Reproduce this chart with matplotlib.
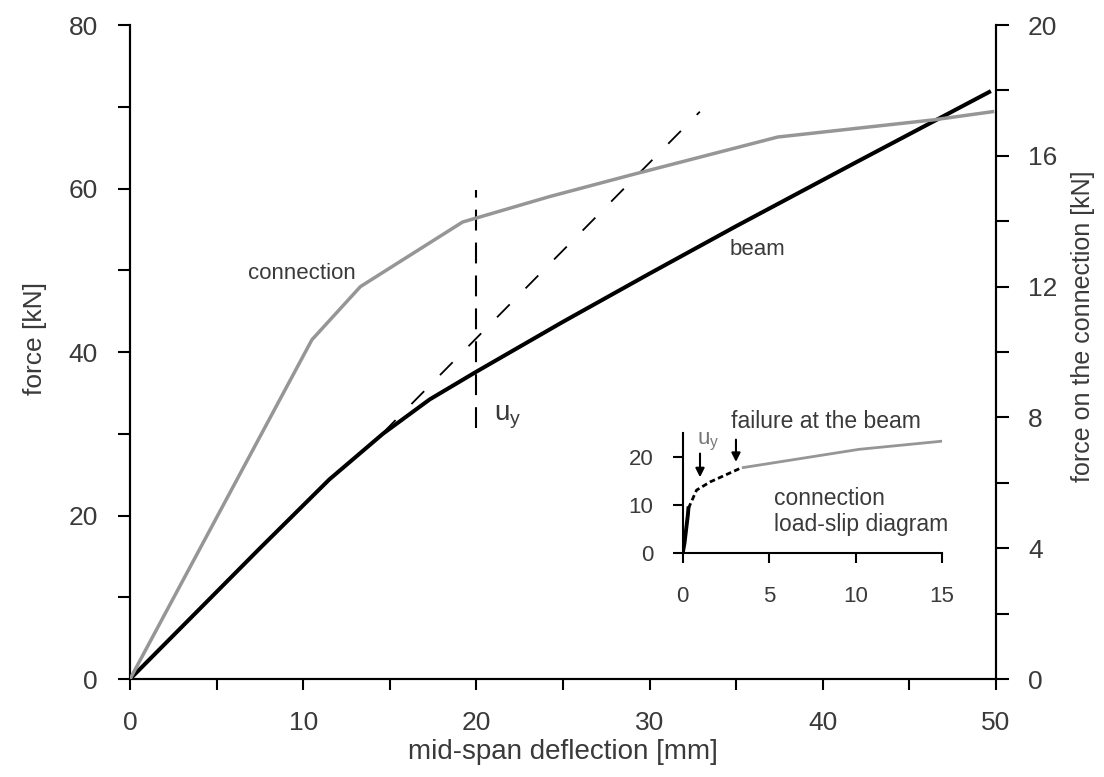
import matplotlib
matplotlib.use("Agg")
import matplotlib.pyplot as plt
from matplotlib.ticker import MultipleLocator

plt.rcParams['font.family'] = ['Liberation Sans', 'DejaVu Sans']

# ---- data (main chart) ----
beam_x = [0, 7.5, 11.5, 14.6, 17.3, 20, 25, 30, 35, 42, 49.6]
beam_y = [0, 16, 24.4, 30.0, 34.2, 37.6, 43.7, 49.6, 55.4, 63.3, 71.8]

# connection force on right axis [kN]
conn_x = [0, 10.5, 13.3, 19.2, 24.2, 29, 37.4, 46.4, 49.8]
conn_y = [0, 10.375, 12.0, 13.975, 14.75, 15.425, 16.575, 17.1, 17.35]

uy_x = [20, 20]
uy_y = [30.7, 59.8]
tan_x = [14.6, 32.9]
tan_y = [30.1, 69.4]

# ---- data (inset: connection load-slip) ----
ins_solid_x = [0, 0.1, 0.2, 0.3, 0.33]
ins_solid_y = [0, 2, 5, 8, 9.3]
ins_dash_x = [0.33, 0.8, 1.58, 3.3]
ins_dash_y = [9.3, 13.1, 14.8, 17.6]
ins_gray_x = [3.5, 10.2, 15]
ins_gray_y = [17.8, 21.6, 23.3]

GRAY = '#969696'
TXT = '#3a3a3a'

fig = plt.figure(figsize=(11.04, 7.77), dpi=100)
ax = fig.add_axes([0.1178, 0.1261, 0.9022 - 0.1178, 0.9678 - 0.1261])
ax2 = ax.twinx()

ax.plot(beam_x, beam_y, color='black', lw=2.9, zorder=3)
ax2.plot(conn_x, conn_y, color=GRAY, lw=2.5, zorder=3)
ax.plot(uy_x, uy_y, color='black', lw=1.5, dashes=(10, 5.8))
ax.plot(tan_x, tan_y, color='black', lw=1.3, dashes=(10, 12.5))

ax.set_xlim(0, 50)
ax.set_ylim(0, 80)
ax2.set_ylim(0, 20)

for a in (ax, ax2):
    a.spines['top'].set_visible(False)
    for s in ('left', 'right', 'bottom'):
        a.spines[s].set_linewidth(1.5)

ax.xaxis.set_major_locator(MultipleLocator(10))
ax.xaxis.set_minor_locator(MultipleLocator(5))
ax.yaxis.set_major_locator(MultipleLocator(20))
ax.yaxis.set_minor_locator(MultipleLocator(10))
ax2.yaxis.set_major_locator(MultipleLocator(4))
ax2.yaxis.set_minor_locator(MultipleLocator(2))

ax.tick_params(axis='x', which='both', direction='out', length=8, width=1.5, pad=15,
               labelsize=19, labelcolor=TXT)
ax.tick_params(axis='y', which='both', direction='out', length=9, width=1.5, pad=14,
               labelsize=19, labelcolor=TXT)
ax2.tick_params(axis='y', which='both', direction='out', length=9, width=1.5, pad=14,
                labelsize=19, labelcolor=TXT)

ax.set_xlabel('mid-span deflection [mm]', fontsize=20, color=TXT)
ax.xaxis.set_label_coords(0.5, -0.1116)
ax.xaxis.label.set_va('center')
ax.set_ylabel('force [kN]', fontsize=19, color=TXT)
ax.yaxis.set_label_coords(-0.1097, 0.52)
ax.yaxis.label.set_va('center')
ax2.set_ylabel('force on the connection [kN]', fontsize=18, color=TXT)
ax2.yaxis.set_label_coords(1.101, 0.54)
ax2.yaxis.label.set_va('center')

ax.text(9.9, 49.6, 'connection', fontsize=16, color=TXT, ha='center', va='center')
ax.text(36.2, 52.5, 'beam', fontsize=16, color=TXT, ha='center', va='center')
ax.text(21.0, 32.0, r'u$_\mathregular{y}$', fontsize=20, color=TXT, ha='left', va='center')

# ---- inset ----
ins = fig.add_axes([0.6184, 0.2883, 0.2349, 0.1544])
ins.plot(ins_solid_x, ins_solid_y, color='black', lw=2.8)
ins.plot(ins_dash_x, ins_dash_y, color='black', lw=2.0, dashes=(2, 1.2))
ins.plot(ins_gray_x, ins_gray_y, color=GRAY, lw=2.0)
ins.set_xlim(0, 15)
ins.set_ylim(0, 25)
ins.set_xticks([0, 5, 10, 15])
ins.set_yticks([0, 10, 20])
for s in ('top', 'right'):
    ins.spines[s].set_visible(False)
ins.spines['left'].set_linewidth(1.5)
ins.spines['bottom'].set_linewidth(1.5)
ins.tick_params(axis='both', direction='out', length=7, width=1.5, labelsize=16,
                labelcolor=TXT)
ins.tick_params(axis='x', pad=17)
ins.tick_params(axis='y', pad=14)
ins.patch.set_alpha(0)

ins.annotate('', xy=(1.0, 15.2), xytext=(1.0, 21.3),
             arrowprops=dict(arrowstyle='-|>', color='black', lw=1.5, mutation_scale=13))
ins.annotate('', xy=(3.08, 18.4), xytext=(3.08, 24.2),
             arrowprops=dict(arrowstyle='-|>', color='black', lw=1.5, mutation_scale=13))
ins.text(0.85, 23.2, r'u$_\mathregular{y}$', fontsize=16, color='#777777', ha='left',
         va='center', clip_on=False)
ins.text(2.8, 27.3, 'failure at the beam', fontsize=16.5, color=TXT, ha='left',
         va='center', clip_on=False)
ins.text(5.3, 11.4, 'connection', fontsize=16.5, color=TXT, ha='left', va='center')
ins.text(5.3, 5.9, 'load-slip diagram', fontsize=16.5, color=TXT, ha='left', va='center')

fig.savefig('out.png', dpi=100)
